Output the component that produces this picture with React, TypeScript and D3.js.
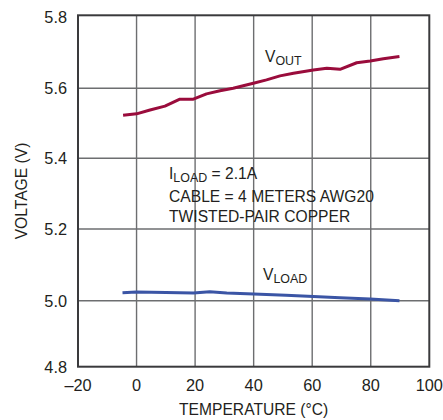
import React from "react";
import * as d3 from "d3";

const xTicks = [-20, 0, 20, 40, 60, 80, 100];
const xTickLabels = ["–20", "0", "20", "40", "60", "80", "100"];
const yTicks = [4.8, 5.0, 5.2, 5.4, 5.6, 5.8];
const yTickLabels = ["4.8", "5.0", "5.2", "5.4", "5.6", "5.8"];

const voutTemp = [-4.6, 0, 4.6, 9.7, 14.8, 19.4, 23.9, 28.5, 33, 39.9, 44.4, 49, 53.6, 60.4, 65, 69.5, 75.2, 79.8, 84.3, 89.8];
const voutVolt = [5.523, 5.527, 5.538, 5.549, 5.569, 5.569, 5.584, 5.593, 5.6, 5.614, 5.623, 5.634, 5.641, 5.65, 5.655, 5.652, 5.67, 5.675, 5.681, 5.687];

const vloadTemp = [-4.8, 0, 10, 19.4, 25, 30.8, 40, 51, 60.4, 69.5, 79.8, 89.8];
const vloadVolt = [5.022, 5.024, 5.023, 5.0215, 5.025, 5.0215, 5.0187, 5.015, 5.012, 5.008, 5.005, 5.0];

const FONT = "'Liberation Sans', Arial, sans-serif";
const TEXT = "#231f20";

function T(props: { x: number; y: number; sx?: number; rot?: number; anchor?: string; size?: number; children: React.ReactNode }) {
  const { x, y, sx = 0.92, rot = 0, anchor = "start", size = 17, children } = props;
  return (
    <text transform={`translate(${x},${y}) rotate(${rot}) scale(${sx},1)`} textAnchor={anchor} fontSize={size} fill={TEXT}>
      {children}
    </text>
  );
}

export default function App() {
  const W = 443, H = 420;
  const left = 78, right = 429.3;
  const x = d3.scaleLinear().domain([-20, 100]).range([left, right]);
  // the source graph's gridlines are not evenly spaced
  const y = d3.scaleLinear().domain(yTicks).range([366.7, 300.7, 229, 158.3, 88.3, 15.3]);
  const top = y(5.8), bottom = y(4.8);
  const line = d3.line<[number, number]>().x(d => x(d[0])).y(d => y(d[1])).curve(d3.curveLinear);
  const vout = line(voutTemp.map((t, i) => [t, voutVolt[i]] as [number, number])) || "";
  const vload = line(vloadTemp.map((t, i) => [t, vloadVolt[i]] as [number, number])) || "";
  const grid = "#6d6e70";
  return (
    <svg width={W} height={H} style={{ position: "absolute", left: 0, top: 0, background: "#fff" }} fontFamily={FONT}>
      {xTicks.slice(1, -1).map(t => (
        <line key={"gx" + t} x1={x(t)} x2={x(t)} y1={top} y2={bottom} stroke={grid} strokeWidth={1.4} />
      ))}
      {yTicks.slice(1, -1).map(t => (
        <line key={"gy" + t} x1={left} x2={right} y1={y(t)} y2={y(t)} stroke={grid} strokeWidth={1.4} />
      ))}
      <rect x={left} y={top} width={right - left} height={bottom - top} fill="none" stroke="#3a3a3c" strokeWidth={2} />
      <path d={vout} fill="none" stroke="#9a0c3c" strokeWidth={3} strokeLinejoin="round" />
      <path d={vload} fill="none" stroke="#3b55a5" strokeWidth={3} strokeLinejoin="round" />
      {yTicks.map((t, i) => (
        <T key={"yl" + t} x={67} y={y(t) + (i === yTicks.length - 1 ? 8 : 6)} anchor="end" sx={0.96}>{yTickLabels[i]}</T>
      ))}
      {xTicks.map((t, i) => (
        <T key={"xl" + t} x={x(t)} y={391} anchor="middle" sx={0.96}>{xTickLabels[i]}</T>
      ))}
      <T x={(left + right) / 2} y={415} anchor="middle">TEMPERATURE (°C)</T>
      <T x={27} y={(top + bottom) / 2} rot={-90} anchor="middle">VOLTAGE (V)</T>
      <T x={265} y={62}>V<tspan fontSize={13.5} dy={3}>OUT</tspan></T>
      <T x={263} y={280}>V<tspan fontSize={13.5} dy={3}>LOAD</tspan></T>
      <T x={169} y={179}>I<tspan fontSize={13.5} dy={3}>LOAD</tspan><tspan dy={-3}> = 2.1A</tspan></T>
      <T x={169} y={201.5}>CABLE = 4 METERS AWG20</T>
      <T x={169} y={222}>TWISTED-PAIR COPPER</T>
    </svg>
  );
}
